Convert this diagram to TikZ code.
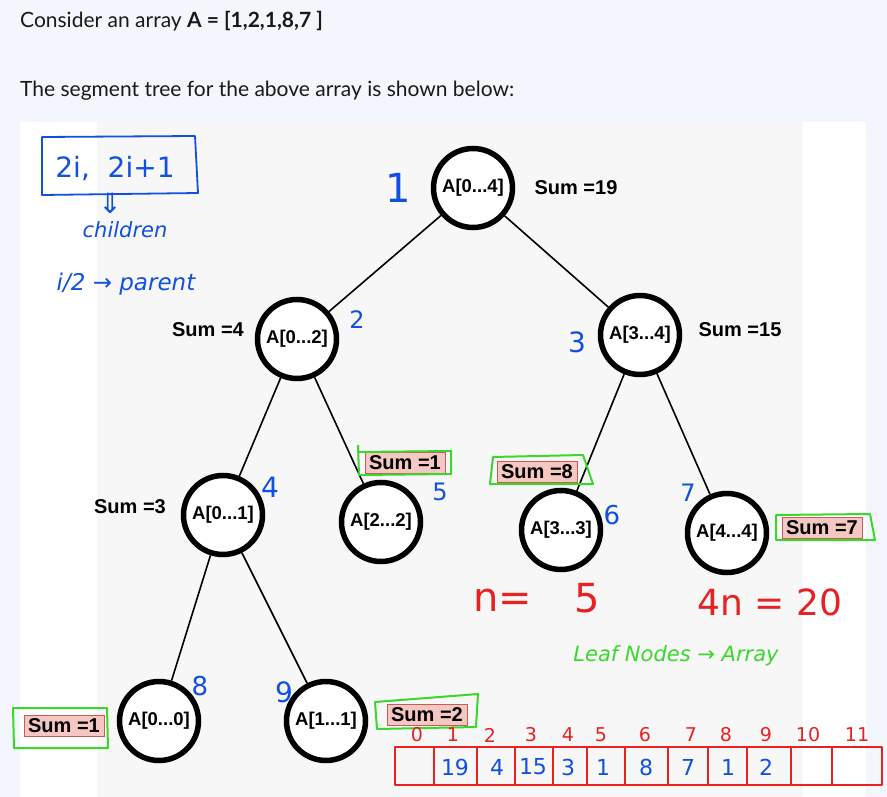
\documentclass[tikz,border=0pt]{standalone}
\usepackage{fontspec}
\setmainfont{Liberation Sans}
\newfontfamily\hdrfont{Lato}
\newfontfamily\handfont{DejaVu Sans}
\usetikzlibrary{arrows.meta}
\definecolor{pagebg}{HTML}{F3F6FC}
\definecolor{panelgray}{HTML}{F7F7F7}
\definecolor{inkblue}{HTML}{1150E0}
\definecolor{inkred}{HTML}{E82222}
\definecolor{inkgreen}{HTML}{3AD82C}
\definecolor{pinkfill}{HTML}{F4C7C3}
\definecolor{pinkedge}{HTML}{C85A5A}
\begin{document}
\begin{tikzpicture}[x=1pt,y=-1pt,
  tn/.style={circle, draw=black, line width=5.5pt, fill=white, minimum size=79pt, inner sep=0pt,
    font=\bfseries\fontsize{18.5}{18.5}\selectfont},
  sumlbl/.style={font=\bfseries\fontsize{20}{20}\selectfont, inner sep=1pt},
  sumbox/.style={font=\bfseries\fontsize{20}{20}\selectfont, fill=pinkfill, draw=pinkedge, line width=0.6pt, inner xsep=4pt, inner ysep=2pt, minimum height=21pt},
  grn/.style={draw=inkgreen, line width=2pt, line join=round},
  bnum/.style={text=inkblue, font=\handfont\fontsize{24}{24}\selectfont, inner sep=0pt},
  rtxt/.style={text=inkred, font=\handfont\fontsize{36}{36}\selectfont, inner sep=0pt},
  idx/.style={text=inkred, font=\handfont\fontsize{19}{19}\selectfont, inner sep=0pt},
  val/.style={text=inkblue, font=\handfont\fontsize{22}{22}\selectfont, inner sep=0pt},
  edge/.style={draw=black, line width=1.6pt},
  hdr/.style={anchor=west, inner sep=0pt, font=\hdrfont\fontsize{21}{21}\selectfont, text=black!90}
]
% backgrounds
\fill[pagebg] (0,0) rectangle (887,797);
\useasboundingbox (0,0) rectangle (887,797);
\fill[white] (20,122) rectangle (866,797);
\fill[panelgray] (97,122) rectangle (803,797);

% header
\node[hdr] (h1) at (20,21) {Consider an array \textbf{A = [1,2,1,8,7 ]}};
\node[hdr] (h2) at (20,91) {The segment tree for the above array is shown below:};

% tree nodes
\node[tn] (n1) at (473,188) {A[0...4]};
\node[tn] (n2) at (297,339) {A[0...2]};
\node[tn] (n3) at (640,335) {A[3...4]};
\node[tn] (n4) at (223,515) {A[0...1]};
\node[tn] (n5) at (381,522) {A[2...2]};
\node[tn] (n6) at (561,530) {A[3...3]};
\node[tn] (n7) at (727,533) {A[4...4]};
\node[tn] (n8) at (159,721) {A[0...0]};
\node[tn] (n9) at (326,721) {A[1...1]};

% edges
\path[edge] (n1) -- (n2);
\path[edge] (n1) -- (n3);
\path[edge] (n2) -- (n4);
\path[edge] (n2) -- (n5);
\path[edge] (n3) -- (n6);
\path[edge] (n3) -- (n7);
\path[edge] (n4) -- (n8);
\path[edge] (n4) -- (n9);

% plain sum labels
\node[sumlbl] (s1) at (576,188) {Sum =19};
\node[sumlbl] (s2) at (208,330) {Sum =4};
\node[sumlbl] (s3) at (740,330) {Sum =15};
\node[sumlbl] (s4) at (130,507) {Sum =3};

% boxed sum labels
\node[sumbox] (s5) at (405,463) {Sum =1};
\node[sumbox] (s6) at (537,472) {Sum =8};
\node[sumbox] (s7) at (822,528) {Sum =7};
\node[sumbox] (s8) at (64,726) {Sum =1};
\node[sumbox] (s9) at (427,715) {Sum =2};

% green hand-drawn outlines
\draw[grn] (358,445) -- (359,475) -- (451,474) -- (451,451) -- (358,452);
\draw[grn] (493,457) -- (583,455) -- (593,484) -- (490,484) -- cycle;
\draw[grn] (776,515) -- (870,514) -- (875,540) -- (776,540) -- cycle;
\draw[grn] (13,708) -- (107,708) -- (108,748) -- (14,748) -- cycle;
\draw[grn] (375,702) -- (478,694) -- (476,727) -- (377,729) -- cycle;

% blue node indices
\node[bnum, font=\handfont\fontsize{40}{40}\selectfont] (i1) at (398,188) {1};
\node[bnum] (i2) at (357,320) {2};
\node[bnum, font=\handfont\fontsize{28}{28}\selectfont] (i3) at (577,342) {3};
\node[bnum, font=\handfont\fontsize{28}{28}\selectfont] (i4) at (270,487) {4};
\node[bnum] (i5) at (440,492) {5};
\node[bnum, font=\handfont\fontsize{26}{26}\selectfont] (i6) at (612,515) {6};
\node[bnum] (i7) at (688,493) {7};
\node[bnum, font=\handfont\fontsize{26}{26}\selectfont] (i8) at (200,686) {8};
\node[bnum, font=\handfont\fontsize{28}{28}\selectfont] (i9) at (284,692) {9};

% blue notes top-left
\draw[inkblue, line width=1.8pt, line join=round] (42,137) -- (195,136) -- (198,193) -- (42,195) -- cycle;
\node[text=inkblue, font=\handfont\fontsize{28}{28}\selectfont, inner sep=0pt] (b1) at (115,168) {2i,\ \ 2i+1};
\node[text=inkblue, font=\handfont\fontsize{28}{28}\selectfont, inner sep=0pt] (b2) at (110,203) {⇓};
\node[text=inkblue, font=\handfont\itshape\fontsize{21}{21}\selectfont, inner sep=0pt] (b3) at (125,230) {children};
\node[text=inkblue, font=\handfont\itshape\fontsize{23}{23}\selectfont, inner sep=0pt] (b4) at (126,284) {i/2 → parent};

% red notes
\node[rtxt, font=\handfont\fontsize{40}{40}\selectfont] (r1) at (503,600) {n=};
\node[rtxt, font=\handfont\fontsize{40}{40}\selectfont] (r2) at (587,598) {5};
\node[rtxt] (r3) at (770,602) {4n = 20};

% green note
\node[text=inkgreen, font=\handfont\itshape\fontsize{21}{21}\selectfont, inner sep=0pt] (g1) at (676,656) {Leaf Nodes → Array};

% array
\draw[inkred, line width=2.4pt, line join=round] (395,747) rectangle (882,785);
\foreach \x in {434,477,515,553,587,625,668,708,747,791,832}
  \draw[inkred, line width=2.4pt] (\x,747) -- (\x,785);
\foreach \i/\x in {0/417,1/453,2/490,3/531,4/568,5/601,6/645,7/691,8/726,9/766,10/808,11/857}
  \node[idx] at (\x,735) {\i};
\foreach \v/\x in {19/455,4/497,15/533,3/568,1/603,8/646,7/688,1/728,2/766}
  \node[val] at (\x,767) {\v};
\end{tikzpicture}
\end{document}
